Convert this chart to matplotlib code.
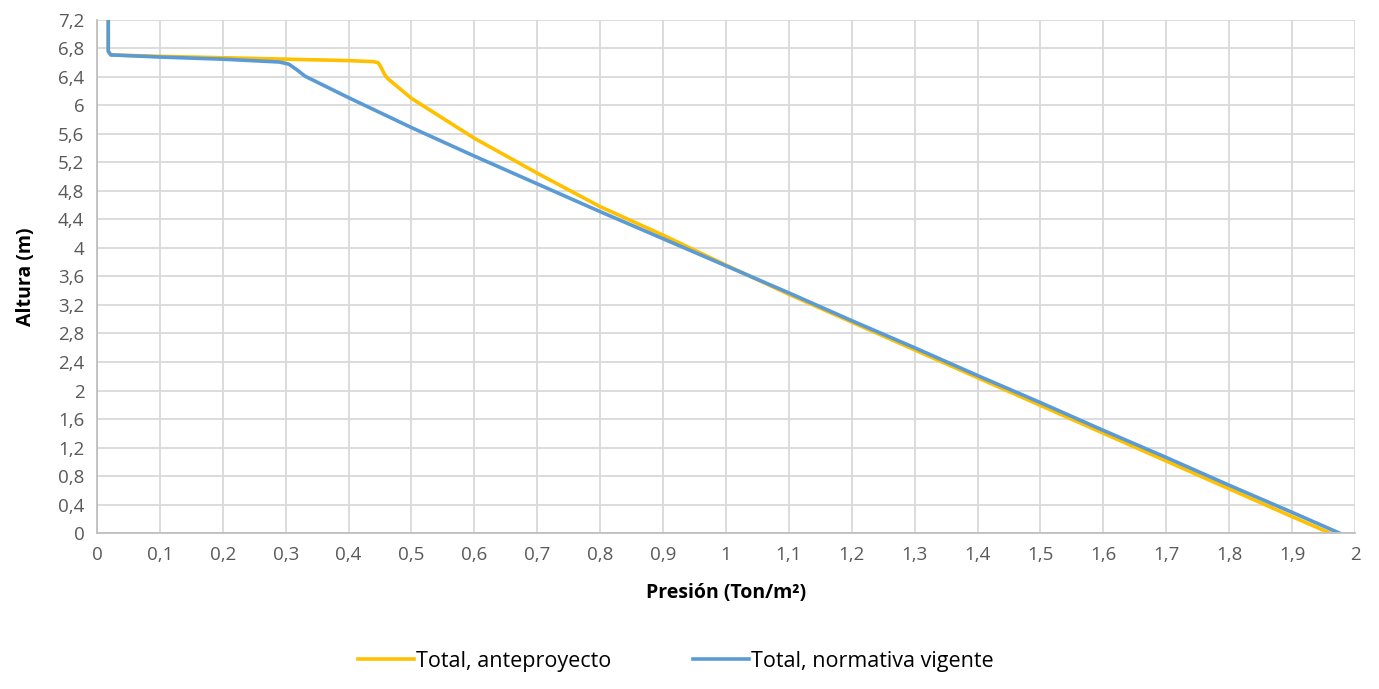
import matplotlib.pyplot as plt
import numpy as np

# presion total vs altura
x_ante = [0.018, 0.018, 0.022, 0.1, 0.2, 0.3, 0.4, 0.44, 0.447, 0.452, 0.457, 0.462, 0.5, 0.6,
          0.7, 0.8, 0.9, 1.0, 1.1, 1.2, 1.3, 1.4, 1.5, 1.6, 1.7, 1.8, 1.9, 1.96]
y_ante = [7.3, 6.76, 6.71, 6.69, 6.67, 6.65, 6.63, 6.615, 6.60, 6.53, 6.44, 6.38, 6.10, 5.54,
          5.05, 4.58, 4.18, 3.76, 3.35, 2.96, 2.57, 2.18, 1.79, 1.40, 1.01, 0.62, 0.23, 0]

x_norm = [0.018, 0.018, 0.022, 0.1, 0.2, 0.29, 0.305, 0.318, 0.331, 0.4, 0.45, 0.5, 0.6, 0.7,
          0.8, 0.9, 1.0, 1.1, 1.2, 1.3, 1.4, 1.5, 1.6, 1.7, 1.8, 1.9, 1.975]
y_norm = [7.3, 6.76, 6.71, 6.68, 6.65, 6.61, 6.58, 6.50, 6.41, 6.11, 5.90, 5.69, 5.29, 4.90,
          4.51, 4.13, 3.75, 3.37, 2.98, 2.60, 2.21, 1.83, 1.44, 1.06, 0.67, 0.29, 0]

xticks = np.round(np.arange(0, 2.01, 0.1), 1)
yticks = np.round(np.arange(0, 7.21, 0.4), 1)

def fmt(v):
    s = ('%.1f' % v).rstrip('0').rstrip('.')
    return s.replace('.', ',')

plt.rcParams['font.family'] = ['Open Sans', 'DejaVu Sans']

fig = plt.figure(figsize=(13.79, 6.89), dpi=100)
ax = fig.add_axes([0.0703, 0.2264, 0.9123, 0.7446])

l1, = ax.plot(x_ante, y_ante, color='#FFC000', linewidth=2.6, label='Total, anteproyecto',
              solid_joinstyle='round')
l2, = ax.plot(x_norm, y_norm, color='#5B9BD5', linewidth=2.6, label='Total, normativa vigente',
              solid_joinstyle='round')

ax.set_xlim(0, 2)
ax.set_ylim(0, 7.2)
ax.set_xticks(xticks)
ax.set_xticklabels([fmt(v) for v in xticks])
ax.set_yticks(yticks)
ax.set_yticklabels([fmt(v) for v in yticks])
ax.tick_params(colors='#595959', labelsize=13.5, length=0, pad=9)
ax.grid(True, color='#d9d9d9', linewidth=1.3)
ax.set_axisbelow(True)
for s in ['top', 'right']:
    ax.spines[s].set_visible(False)
for s in ['left', 'bottom']:
    ax.spines[s].set_color('#bfbfbf')
    ax.spines[s].set_linewidth(1.3)

ax.set_xlabel('Presión (Ton/m²)', fontsize=14, fontweight='bold', labelpad=14)
ax.set_ylabel('Altura (m)', fontsize=14, fontweight='bold', labelpad=16)

fig.legend(handles=[l1, l2], loc='center', bbox_to_anchor=(0.49, 0.04), ncol=2,
           frameon=False, fontsize=15.5, handlelength=2.6, handletextpad=0.1,
           columnspacing=3.8)

fig.savefig('out.png', dpi=100)
